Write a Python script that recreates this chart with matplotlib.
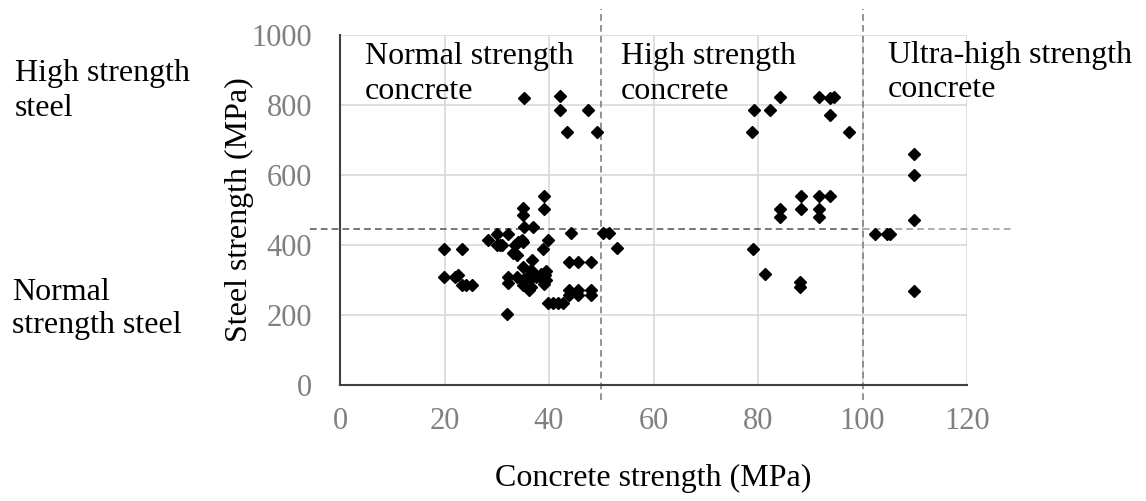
import matplotlib.pyplot as plt

plt.rcParams['font.family'] = ['Liberation Serif', 'DejaVu Serif']

# concrete strength (MPa) vs steel strength (MPa) for each specimen
normal_fc = [19.9, 23.4, 19.9, 22.0, 22.6, 23.3, 24.2, 25.2,
             28.4, 30.0, 32.2, 30.0, 30.6, 31.0,
             33.5, 34.1, 34.8, 35.1, 35.2, 36.9,
             35.1, 35.1, 39.0, 39.0,
             33.2, 33.8, 39.9, 38.9, 44.3,
             36.7, 35.1, 36.5, 37.0, 38.5, 39.5, 39.5,
             32.2, 32.2, 33.8, 35.1, 35.8, 36.5, 37.5, 38.5, 39.3, 39.0,
             35.1, 36.1, 36.5, 31.9,
             39.9, 40.8, 41.7, 42.6,
             43.9, 45.5, 48.0,
             43.9, 45.5, 48.0, 43.9, 45.5, 48.0,
             50.4, 51.4, 53.0,
             35.3, 42.2, 42.2, 47.5, 43.4, 49.1]
normal_fy = [390, 390, 308, 310, 314, 286, 286, 286,
             414, 431, 431, 400, 400, 400,
             400, 409, 414, 409, 450, 450,
             505, 486, 540, 502,
             376, 371, 414, 390, 435,
             357, 338, 330, 320, 318, 325, 300,
             309, 292, 309, 300, 310, 305, 310, 305, 315, 290,
             286, 271, 280, 202,
             235, 235, 235, 235,
             352, 352, 352,
             271, 271, 271, 257, 257, 257,
             433, 433, 392,
             821, 826, 786, 786, 723, 723]

high_fc = [78.8, 79.2, 82.3, 84.3, 91.6, 93.8, 94.6, 93.8, 97.5,
           88.2, 91.6, 93.8, 88.2, 91.6, 84.2, 84.2, 91.6,
           79.1, 81.3, 88.0, 88.0]
high_fy = [722, 786, 786, 824, 824, 819, 824, 771, 722,
           540, 540, 540, 503, 503, 503, 481, 481,
           388, 317, 295, 281]

ultra_fc = [102.3, 104.6, 105.3, 109.9, 109.9, 109.9, 109.9]
ultra_fy = [431, 430, 430, 659, 600, 471, 269]

fc = normal_fc + high_fc + ultra_fc
fy = normal_fy + high_fy + ultra_fy

# class limits
fc_limits = [50, 100]
fy_limit = 445

fig = plt.figure(figsize=(11.46, 5.01), dpi=100)
ax = fig.add_axes([340 / 1146, 116 / 501, 627 / 1146, 350 / 501])

ax.plot(fc, fy, 'D', color='black', markersize=5.8, linestyle='none', zorder=3)

ax.set_xlim(0, 120)
ax.set_ylim(0, 1000)
ax.set_xticks(range(0, 121, 20))
ax.set_yticks(range(0, 1001, 200))
ax.grid(True, color='#d9d9d9', linewidth=1.2)
ax.set_axisbelow(True)
for side in ['top', 'right']:
    ax.spines[side].set_visible(False)
for side in ['left', 'bottom']:
    ax.spines[side].set_color('#404040')
    ax.spines[side].set_linewidth(1.5)
ax.tick_params(length=0, labelsize=22, labelcolor='#808080')
ax.tick_params(axis='y', pad=20)
ax.tick_params(axis='x', pad=16)

ax.set_xlabel('Concrete strength (MPa)', fontsize=23, labelpad=20)
ax.set_ylabel('Steel strength (MPa)', fontsize=23, labelpad=-2)

# dashed class boundaries, running past the axes
for x in fc_limits:
    ax.plot([x, x], [-43, 1074], color='#808080', linestyle=(0, (4, 2.5)),
            linewidth=1.2, clip_on=False, zorder=2)
ax.plot([-5.7, 100], [fy_limit, fy_limit], color='#606060', linestyle=(0, (4, 2.5)),
        linewidth=1.2, clip_on=False, zorder=2)
ax.plot([100, 128.6], [fy_limit, fy_limit], color='#a0a0a0', linestyle=(0, (4, 2.5)),
        linewidth=1.2, clip_on=False, zorder=2)

# class names (y is the baseline of the last line)
ax.text(4.8, 818, 'Normal strength\nconcrete', fontsize=23, va='baseline', linespacing=1.25)
ax.text(53.8, 818, 'High strength\nconcrete', fontsize=23, va='baseline', linespacing=1.25)
ax.text(104.9, 822, 'Ultra-high strength\nconcrete', fontsize=23, va='baseline', linespacing=1.25)

fig.text(15 / 1146, 1 - 116 / 501, 'High strength\nsteel', fontsize=23, va='baseline', linespacing=1.25)
fig.text(12 / 1146, 1 - 333 / 501, 'Normal\nstrength steel', fontsize=23, va='baseline', linespacing=1.2)

fig.savefig('out.png', dpi=100)
